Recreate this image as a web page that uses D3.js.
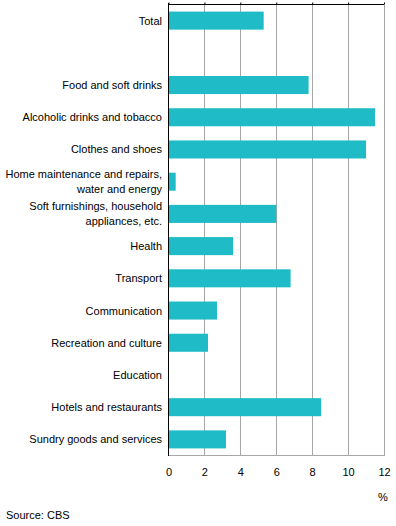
<!DOCTYPE html>
<html><head><meta charset="utf-8">
<script src="https://cdn.jsdelivr.net/npm/d3@7"></script>
<style>body{margin:0;background:#fff}svg{display:block}text{font-family:"Liberation Sans",Arial,sans-serif;font-size:11px;fill:#000}</style>
</head><body>
<script>
const categories = ["Total", "", "Food and soft drinks", "Alcoholic drinks and tobacco", "Clothes and shoes",
  "Home maintenance and repairs,|water and energy", "Soft furnishings, household|appliances, etc.", "Health",
  "Transport", "Communication", "Recreation and culture", "Education", "Hotels and restaurants", "Sundry goods and services"];
const values = [5.3, null, 7.8, 11.5, 11.0, 0.4, 6.0, 3.6, 6.8, 2.7, 2.2, 0, 8.5, 3.2];
const xTicks = [0, 2, 4, 6, 8, 10, 12];
const unitLabel = "%";
const sourceText = "Source: CBS";

const W = 396, H = 526;
const svg = d3.select("body").append("svg").attr("width", W).attr("height", H);
const x = d3.scaleLinear().domain([0, 12]).range([168.5, 384]);
const y = d3.scaleBand().domain(d3.range(categories.length)).range([4.5, 455.5]).paddingInner(0.44).paddingOuter(0.22);

// gridlines
svg.append("g").selectAll("line").data(xTicks.slice(1)).join("line")
  .attr("x1", d => Math.round(x(d)) + 0.5).attr("x2", d => Math.round(x(d)) + 0.5)
  .attr("y1", 5).attr("y2", 456).attr("stroke", "#a6a6a6").attr("stroke-width", 1);
// bottom line
svg.append("line").attr("x1", x(0)).attr("x2", Math.round(x(12)) + 1).attr("y1", 455.5).attr("y2", 455.5)
  .attr("stroke", "#a6a6a6");

// bars
svg.append("g").selectAll("rect").data(values.map((v, i) => ({v, i})).filter(d => d.v != null && d.v > 0)).join("rect")
  .attr("x", x(0)).attr("y", d => y(d.i)).attr("width", d => x(d.v) - x(0)).attr("height", y.bandwidth())
  .attr("fill", "#1fbbc6");

// top axis
const topAxis = d3.axisTop(x).tickValues(xTicks).tickSize(2).tickFormat("");
const ga = svg.append("g").attr("transform", "translate(0,4.5)").call(topAxis);
ga.select(".domain").attr("stroke", "#000").attr("d", `M${x(0)},0H${x(12)}`);
ga.selectAll(".tick line").attr("stroke", "#000");

// left axis line
svg.append("line").attr("x1", 168.5).attr("x2", 168.5).attr("y1", 3).attr("y2", 456).attr("stroke", "#000");

// bottom tick labels
const gb = svg.append("g").attr("transform", "translate(0,456)")
  .call(d3.axisBottom(x).tickValues(xTicks).tickSize(0).tickPadding(12));
gb.select(".domain").remove();
gb.selectAll("text").style("font-family", "Liberation Sans, Arial, sans-serif").style("font-size", "11px").attr("fill", "#000");

// category labels
const lab = svg.append("g").selectAll("text").data(categories.map((c, i) => ({c, i})).filter(d => d.c)).join("text")
  .attr("text-anchor", "end")
  .attr("x", 162)
  .attr("y", d => y(d.i) + y.bandwidth() / 2);
lab.each(function(d) {
  const lines = d.c.split("|");
  const t = d3.select(this);
  const n = lines.length;
  lines.forEach((l, k) => {
    t.append("tspan").attr("x", 162).attr("dy", k === 0 ? ((-(n - 1) * 15 / 2) + 4) : 15).text(l);
  });
});

svg.append("text").attr("x", 383).attr("y", 501).attr("text-anchor", "middle").text(unitLabel);
svg.append("text").attr("x", 6).attr("y", 519).text(sourceText);
</script>
</body></html>
